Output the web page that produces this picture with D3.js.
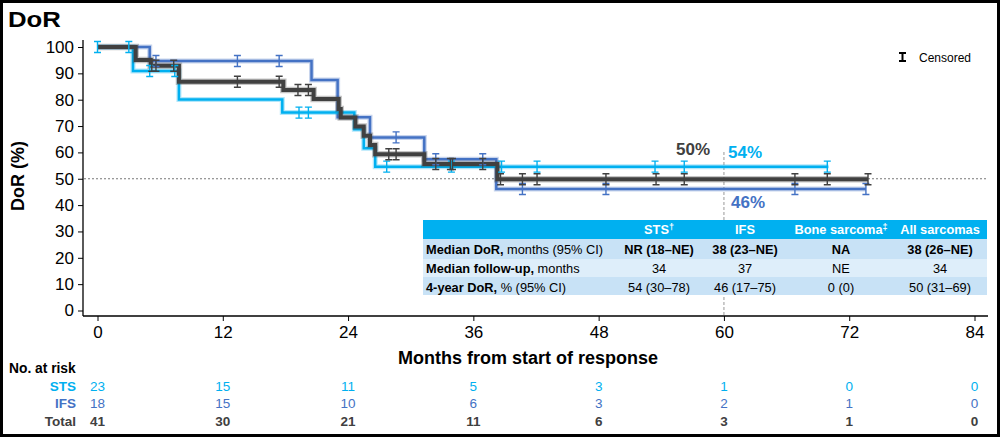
<!DOCTYPE html>
<html><head><meta charset="utf-8">
<script src="https://cdn.jsdelivr.net/npm/d3@7"></script>
<style>
body{margin:0;background:#fff}
svg{display:block;font-family:"Liberation Sans",Arial,sans-serif}
</style>
</head><body>
<svg id="c" width="1000" height="437"></svg>
<script>
// ---------- data ----------
const xTicks = [0, 12, 24, 36, 48, 60, 72, 84];
const yTicks = [0, 10, 20, 30, 40, 50, 60, 70, 80, 90, 100];

const stsTimes  = [0, 3.4, 7.8, 17.7, 24.6, 25.5, 26.6];
const stsValues = [100, 90.9, 80.1, 75.1, 68.8, 61.6, 54.6];
const stsEnd = 70;
const stsCensor = [0, 3.0, 5.0, 7.4, 19.3, 20.2, 27.7, 33.9, 38.7, 42.1, 53.4, 56.2, 69.9];

const ifsTimes  = [0, 5.0, 20.5, 23.0, 26.1, 31.3, 38.2];
const ifsValues = [100, 94.7, 87.5, 73.3, 65.7, 57.4, 46.1];
const ifsEnd = 73.6;
const ifsCensor = [5.6, 13.4, 17.4, 28.6, 32.4, 36.9, 40.7, 48.7, 66.8, 73.6];

const totTimes  = [0, 3.66, 5.1, 7.8, 17.8, 20.7, 23.1, 23.3, 24.7, 25.5, 26.1, 26.6, 31.3, 38.3];
const totValues = [100, 95.1, 92.9, 86.8, 83.7, 80.3, 76.5, 73.2, 69.8, 66.3, 62.8, 59.3, 55.6, 49.8];
const totEnd = 73.8;
const totCensor = [5.2, 5.6, 7.3, 13.4, 17.4, 19.2, 20.2, 27.9, 28.6, 32.4, 33.8, 34.0, 36.9, 38.6, 40.7, 42.1, 48.7, 53.5, 56.2, 66.8, 69.9, 73.8];

const atRiskLabels = ["STS", "IFS", "Total"];
const atRiskSTS   = [23, 15, 11, 5, 3, 1, 0, 0];
const atRiskIFS   = [18, 15, 10, 6, 3, 2, 1, 0];
const atRiskTotal = [41, 30, 21, 11, 6, 3, 1, 0];

const tableHeaders = ["STS", "IFS", "Bone sarcoma", "All sarcomas"];
const tableHeaderMarks = ["†", "", "‡", ""];
const rowLabelsBold = ["Median DoR,", "Median follow-up,", "4-year DoR,"];
const rowLabelsRest = [" months (95% CI)", " months", " % (95% CI)"];
const colSTS  = ["NR (18–NE)", "34", "54 (30–78)"];
const colIFS  = ["38 (23–NE)", "37", "46 (17–75)"];
const colBone = ["NA", "NE", "0 (0)"];
const colAll  = ["38 (26–NE)", "34", "50 (31–69)"];

const annotations = ["50%", "54%", "46%"];

// ---------- drawing ----------
const CY = "#00b0f0", BL = "#4472c4", DK = "#404040";
const svg = d3.select("#c");

const x = d3.scaleLinear().domain([0, 84]).range([97.5, 974.5]);
const y = d3.scaleLinear().domain([0, 100]).range([310.5, 47]);

// frame
svg.append("rect").attr("x", 1.5).attr("y", 1.5).attr("width", 997).attr("height", 434)
  .attr("fill", "#fff").attr("stroke", "#000").attr("stroke-width", 3);

// title
svg.append("text").attr("x", 8).attr("y", 27).attr("font-size", 22).attr("font-weight", "bold")
  .attr("transform", "translate(8,27) scale(1.17,1) translate(-8,-27)").text("DoR");

// y axis
const yAxis = d3.axisLeft(y).tickValues(yTicks).tickSize(5).tickPadding(4);
const gy = svg.append("g").attr("transform", "translate(83,0)").call(yAxis);
gy.select(".domain").remove();
gy.selectAll("text").attr("font-size", 17).attr("fill", "#000").attr("font-family", "Liberation Sans, Arial, sans-serif");
gy.selectAll("line").attr("stroke", "#000");
svg.append("line").attr("x1", 83).attr("x2", 83).attr("y1", 40).attr("y2", 316).attr("stroke", "#000").attr("stroke-width", 1.3);

// x axis
const xAxis = d3.axisBottom(x).tickValues(xTicks).tickSize(5).tickPadding(5);
const gx = svg.append("g").attr("transform", "translate(0,316)").call(xAxis);
gx.select(".domain").remove();
gx.selectAll("text").attr("font-size", 17).attr("fill", "#000").attr("font-family", "Liberation Sans, Arial, sans-serif");
gx.selectAll("line").attr("stroke", "#000");
svg.append("line").attr("x1", 83).attr("x2", 988).attr("y1", 316).attr("y2", 316).attr("stroke", "#000").attr("stroke-width", 1.3);

// axis titles
svg.append("text").attr("x", 528).attr("y", 363.5).attr("text-anchor", "middle")
  .attr("font-size", 18).attr("font-weight", "bold").text("Months from start of response");
svg.append("text").attr("transform", "translate(24,176) rotate(-90)").attr("text-anchor", "middle")
  .attr("font-size", 18).attr("font-weight", "bold").text("DoR (%)");

// reference lines
svg.append("line").attr("x1", 84).attr("x2", 988).attr("y1", y(50)).attr("y2", y(50))
  .attr("stroke", "#777").attr("stroke-width", 1).attr("stroke-dasharray", "2,2");
svg.append("line").attr("x1", x(60)).attr("x2", x(60)).attr("y1", 152).attr("y2", 316)
  .attr("stroke", "#aaa").attr("stroke-width", 1.2).attr("stroke-dasharray", "3,2");

// curves
const line = d3.line().x(d => x(d[0])).y(d => y(d[1])).curve(d3.curveStepAfter);
function pts(times, vals, end) {
  const p = times.map((t, i) => [t, vals[i]]);
  p.push([end, vals[vals.length - 1]]);
  return p;
}
function valAt(times, vals, t) {
  let v = vals[0];
  times.forEach((tt, i) => { if (tt <= t) v = vals[i]; });
  return v;
}
const series = [
  {times: ifsTimes, vals: ifsValues, end: ifsEnd, cens: ifsCensor, color: BL, w: 2.5},
  {times: stsTimes, vals: stsValues, end: stsEnd, cens: stsCensor, color: CY, w: 2.5},
  {times: totTimes, vals: totValues, end: totEnd, cens: totCensor, color: DK, w: 4}
];
series.forEach(s => {
  const p = pts(s.times, s.vals, s.end);
  svg.append("path").attr("d", line(p)).attr("fill", "none").attr("stroke", s.color)
    .attr("stroke-opacity", 0.3).attr("stroke-width", s.w + 2.5);
  svg.append("path").attr("d", line(p)).attr("fill", "none").attr("stroke", s.color)
    .attr("stroke-width", s.w);
});
function censorMark(g, cx, cy, color, h, w, sw) {
  g.append("path").attr("d", `M${cx - w},${cy - h}H${cx + w}M${cx},${cy - h}V${cy + h}M${cx - w},${cy + h}H${cx + w}`)
    .attr("stroke", color).attr("stroke-width", sw).attr("fill", "none");
}
const gc = svg.append("g");
series.forEach(s => {
  s.cens.forEach(t => censorMark(gc, x(t), y(valAt(s.times, s.vals, t)), s.color, 5.5, 3.5, 1.4));
});

// annotations
svg.append("text").attr("x", 693).attr("y", 155).attr("text-anchor", "middle").attr("font-size", 17)
  .attr("font-weight", "bold").attr("fill", DK).text(annotations[0]);
svg.append("text").attr("x", 745).attr("y", 158).attr("text-anchor", "middle").attr("font-size", 17)
  .attr("font-weight", "bold").attr("fill", CY).text(annotations[1]);
svg.append("text").attr("x", 748).attr("y", 208).attr("text-anchor", "middle").attr("font-size", 17)
  .attr("font-weight", "bold").attr("fill", BL).text(annotations[2]);

// legend
censorMark(svg, 902.5, 57, "#000", 4, 3.5, 2);
svg.append("text").attr("x", 919).attr("y", 61.5).attr("font-size", 12).text("Censored");

// table
const tX0 = 423, tX1 = 987;
const rowTops = [220, 239, 259, 277, 295];
const rowFills = [CY, "#c8e2f6", "#deeefa", "#c8e2f6"];
const colCenters = [659, 745, 841, 940];
const gt = svg.append("g").attr("font-size", 12.8);
rowFills.forEach((f, i) => {
  gt.append("rect").attr("x", tX0).attr("y", rowTops[i]).attr("width", tX1 - tX0)
    .attr("height", rowTops[i + 1] - rowTops[i]).attr("fill", f);
});
tableHeaders.forEach((h, i) => {
  const t = gt.append("text").attr("x", colCenters[i]).attr("y", 234).attr("text-anchor", "middle")
    .attr("fill", "#fff").attr("font-weight", "bold").text(h);
  if (tableHeaderMarks[i]) t.append("tspan").attr("font-size", 9).attr("dy", -4).text(tableHeaderMarks[i]);
});
const baselines = [254, 273, 291.5];
rowLabelsBold.forEach((b, i) => {
  const t = gt.append("text").attr("x", 426).attr("y", baselines[i]).attr("fill", "#000");
  t.append("tspan").attr("font-weight", "bold").text(b);
  t.append("tspan").text(rowLabelsRest[i]);
});
[colSTS, colIFS, colBone, colAll].forEach((col, j) => {
  col.forEach((v, i) => {
    gt.append("text").attr("x", colCenters[j]).attr("y", baselines[i]).attr("text-anchor", "middle")
      .attr("fill", "#000").attr("font-weight", i === 0 ? "bold" : "normal").text(v);
  });
});

// numbers at risk
svg.append("text").attr("x", 9).attr("y", 373).attr("font-size", 13.8).attr("font-weight", "bold").text("No. at risk");
const riskRows = [atRiskSTS, atRiskIFS, atRiskTotal];
const riskColors = [CY, BL, DK];
const riskY = [390.5, 408, 425.5];
riskRows.forEach((r, i) => {
  svg.append("text").attr("x", 76).attr("y", riskY[i]).attr("text-anchor", "end").attr("font-size", 13.5)
    .attr("font-weight", "bold").attr("fill", riskColors[i]).text(atRiskLabels[i]);
  r.forEach((v, j) => {
    svg.append("text").attr("x", x(xTicks[j])).attr("y", riskY[i]).attr("text-anchor", "middle")
      .attr("font-size", 13.5).attr("font-weight", i === 2 ? "bold" : "normal").attr("fill", riskColors[i]).text(v);
  });
});
</script>
</body></html>
